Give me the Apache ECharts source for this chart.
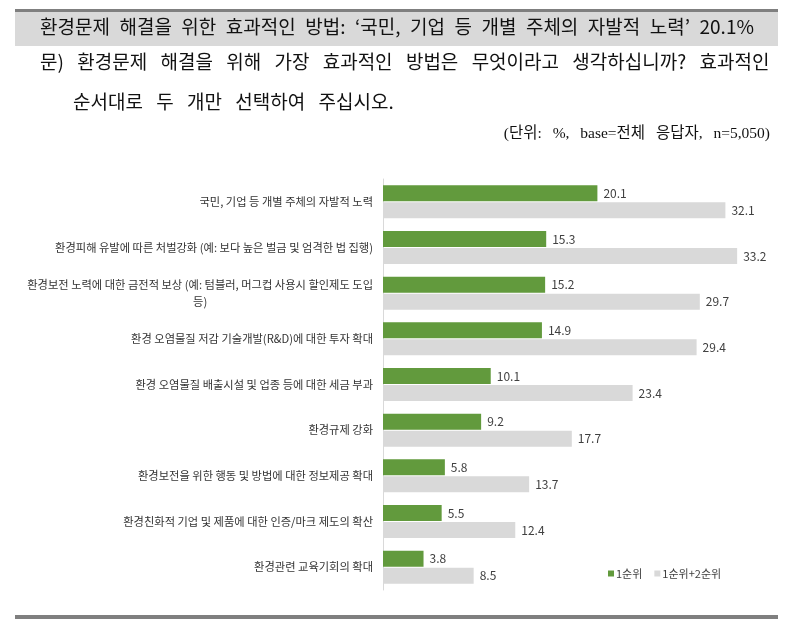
<!DOCTYPE html>
<html><head><meta charset="utf-8">
<script src="https://cdn.jsdelivr.net/npm/echarts@6/dist/echarts.min.js"></script>
<style>html,body{margin:0;padding:0;background:#fff}#c{width:792px;height:628px}</style>
</head><body><div id="c"></div>
<script>
const categories = [
  '국민, 기업 등 개별 주체의 자발적 노력',
  '환경피해 유발에 따른 처벌강화 (예: 보다 높은 벌금 및 엄격한 법 집행)',
  '환경보전 노력에 대한 금전적 보상 (예: 텀블러, 머그컵 사용시 할인제도 도입\n등)',
  '환경 오염물질 저감 기술개발(R&D)에 대한 투자 확대',
  '환경 오염물질 배출시설 및 업종 등에 대한 세금 부과',
  '환경규제 강화',
  '환경보전을 위한 행동 및 방법에 대한 정보제공 확대',
  '환경친화적 기업 및 제품에 대한 인증/마크 제도의 확산',
  '환경관련 교육기회의 확대'
];
const seriesNames = ['1순위', '1순위+2순위'];
const rank1 = [20.1, 15.3, 15.2, 14.9, 10.1, 9.2, 5.8, 5.5, 3.8];
const rank12 = [32.1, 33.2, 29.7, 29.4, 23.4, 17.7, 13.7, 12.4, 8.5];

const titleText = '환경문제 해결을 위한 효과적인 방법: ‘국민, 기업 등 개별 주체의 자발적 노력’ 20.1%';
const q1 = '문) 환경문제 해결을 위해 가장 효과적인 방법은 무엇이라고 생각하십니까? 효과적인';
const q2 = '순서대로 두 개만 선택하여 주십시오.';
const note = '(단위: %, base=전체 응답자, n=5,050)';

const wide = s => s.replace(/ /g, '\u2002');
const wider = s => s.replace(/ /g, '\u2002\u2009');

const chart = echarts.init(document.getElementById('c'));
const KR = '"Noto Sans CJK KR", sans-serif';
chart.setOption({
  animation: false,
  textStyle: { fontFamily: KR },
  graphic: [
    { type: 'rect', shape: { x: 15, y: 9, width: 763, height: 3 }, style: { fill: '#7f7f7f' } },
    { type: 'rect', shape: { x: 15, y: 12, width: 763, height: 34 }, style: { fill: '#d9d9d9' } },
    { type: 'text', left: 40, top: 17, style: { text: wide(titleText), fontSize: 19, fill: '#111', fontFamily: KR } },
    { type: 'text', left: 40, top: 52, style: { text: wider(q1), fontSize: 19, fill: '#111', fontFamily: KR } },
    { type: 'text', left: 73, top: 92, style: { text: wider(q2), fontSize: 19, fill: '#111', fontFamily: KR } },
    { type: 'text', right: 22, top: 126, style: { text: wider(note), fontSize: 15.5, fill: '#111', fontFamily: '"Liberation Serif", "Noto Sans CJK KR", serif' } },
    { type: 'rect', shape: { x: 15, y: 615, width: 763, height: 4 }, style: { fill: '#7f7f7f' } }
  ],
  legend: {
    data: seriesNames,
    left: 603, top: 563,
    itemWidth: 6, itemHeight: 6, itemGap: 12,
    icon: 'rect',
    textStyle: { fontSize: 11, color: '#404040', padding: [0, 0, 0, -3] }
  },
  grid: { left: 383, top: 179, right: 25, bottom: 38, containLabel: false },
  xAxis: {
    type: 'value', min: 0, max: 36,
    show: false
  },
  yAxis: {
    type: 'category', data: categories, inverse: true,
    axisLine: { show: true, lineStyle: { color: '#d9d9d9', width: 1 } },
    axisTick: { show: false },
    axisLabel: {
      fontSize: 11.25, color: '#333', margin: 10, lineHeight: 17,
      formatter: function (v) {
        const parts = v.split('\n');
        if (parts.length > 1) return parts[0] + '\n{c|' + parts[1] + '}';
        return v;
      },
      rich: { c: { align: 'center', fontSize: 11.25, color: '#333', lineHeight: 17 } }
    }
  },
  series: [
    {
      name: seriesNames[0], type: 'bar', data: rank1,
      itemStyle: { color: '#629a3d' },
      barWidth: 16, barGap: '6%',
      label: { show: true, position: 'right', distance: 6, fontSize: 12, color: '#404040', formatter: p => p.value.toFixed(1) }
    },
    {
      name: seriesNames[1], type: 'bar', data: rank12,
      itemStyle: { color: '#d9d9d9' },
      barWidth: 16,
      label: { show: true, position: 'right', distance: 6, fontSize: 12, color: '#404040', formatter: p => p.value.toFixed(1) }
    }
  ]
});
</script></body></html>
